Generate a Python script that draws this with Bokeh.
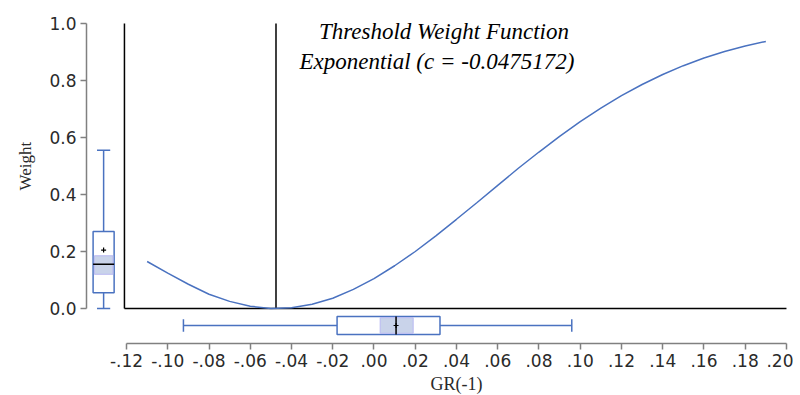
from bokeh.plotting import figure
from bokeh.models import Range1d, FixedTicker, Label, Title
from bokeh.embed import file_html
from bokeh.resources import INLINE

# ---- data ----
threshold_c = -0.0475172
gr_x = [-0.11, -0.10, -0.09, -0.08, -0.07, -0.06, -0.05, -0.04, -0.03, -0.02,
        -0.01, 0.00, 0.01, 0.02, 0.03, 0.04, 0.05, 0.06, 0.07, 0.08,
        0.09, 0.10, 0.11, 0.12, 0.13, 0.14, 0.15, 0.16, 0.17, 0.18, 0.19]
weight_y = [0.165, 0.124, 0.085, 0.050, 0.025, 0.008, 0.000, 0.003, 0.015, 0.036,
            0.067, 0.105, 0.150, 0.200, 0.255, 0.313, 0.372, 0.432, 0.492, 0.549,
            0.604, 0.656, 0.703, 0.747, 0.786, 0.821, 0.852, 0.879, 0.902, 0.921, 0.937]

# boxplot of weights (vertical)
w_min, w_q1, w_med, w_q3, w_max = 0.0, 0.055, 0.155, 0.27, 0.555
w_mean = 0.205
w_ci = (0.12, 0.185)

# boxplot of GR(-1) (horizontal)
g_min, g_q1, g_med, g_q3, g_max = -0.0924, -0.0179, 0.0107, 0.032, 0.0959
g_mean = 0.0107
g_ci = (0.003, 0.019)

x_ticks = [-0.12, -0.10, -0.08, -0.06, -0.04, -0.02, 0.00, 0.02, 0.04, 0.06,
           0.08, 0.10, 0.12, 0.14, 0.16, 0.18, 0.20]
x_tick_labels = ["-.12", "-.10", "-.08", "-.06", "-.04", "-.02", ".00", ".02", ".04", ".06",
                 ".08", ".10", ".12", ".14", ".16", ".18", ".20"]
y_ticks = [0.0, 0.2, 0.4, 0.6, 0.8, 1.0]
y_tick_labels = ["0.0", "0.2", "0.4", "0.6", "0.8", "1.0"]

title_lines = ["Threshold Weight Function", "Exponential (c = -0.0475172)"]
x_label = "GR(-1)"
y_label = "Weight"

# ---- style / layout ----
BLUE = "#4a72c0"
FILL = "#c9d3ea"
AXIS = "#808080"
TXT = "#2a2a2a"

p = figure(frame_width=701, frame_height=323, output_backend="svg", toolbar_location=None,
           x_range=Range1d(-0.1394, 0.2005), y_range=Range1d(-0.1228, 1.0105),
           min_border_left=86, min_border_top=20, min_border_right=6, min_border_bottom=46)
p.outline_line_color = None
p.xgrid.visible = False
p.ygrid.visible = False
p.background_fill_color = "white"

for ax, ticks, labels in ((p.xaxis[0], x_ticks, x_tick_labels), (p.yaxis[0], y_ticks, y_tick_labels)):
    ax.ticker = FixedTicker(ticks=ticks)
    ax.major_label_overrides = {t: l for t, l in zip(ticks, labels)}
    ax.axis_line_color = AXIS
    ax.axis_line_width = 1.5
    ax.major_tick_line_color = AXIS
    ax.major_tick_line_width = 1.5
    ax.major_tick_in = 0
    ax.major_tick_out = 6
    ax.minor_tick_line_color = None
    ax.major_label_text_font = "DejaVu Sans"
    ax.major_label_text_font_size = "17px"
    ax.major_label_text_color = TXT
p.xaxis.bounds = (x_ticks[0], x_ticks[-1])
p.yaxis.bounds = (y_ticks[0], y_ticks[-1])
p.yaxis.major_label_standoff = 4
p.xaxis.major_label_standoff = 4

# inner frame lines
x_frame = -0.121
p.segment(x0=[x_frame, x_frame], y0=[0, 0], x1=[x_frame, x_ticks[-1]], y1=[1.0, 0],
          line_color="black", line_width=1.5)
# threshold line
p.segment(x0=[threshold_c], y0=[0], x1=[threshold_c], y1=[1.0], line_color="black", line_width=1.5)

# curve
p.line(gr_x, weight_y, line_color=BLUE, line_width=1.5)

# vertical boxplot of weights
bx = -0.1311
bw = 0.0102
cap = 0.0032
p.segment(x0=[bx, bx], y0=[w_min, w_q3], x1=[bx, bx], y1=[w_q1, w_max], line_color=BLUE, line_width=1.5)
p.segment(x0=[bx - cap, bx - cap], y0=[w_min, w_max], x1=[bx + cap, bx + cap], y1=[w_min, w_max],
          line_color=BLUE, line_width=1.5)
p.quad(left=[bx - bw / 2], right=[bx + bw / 2], bottom=[w_q1], top=[w_q3],
       fill_color="white", line_color=BLUE, line_width=1.5)
p.quad(left=[bx - bw / 2 + 0.0006], right=[bx + bw / 2 - 0.0006], bottom=[w_ci[0]], top=[w_ci[1]],
       fill_color=FILL, line_color="#b9b9f2", line_width=1)
p.segment(x0=[bx - bw / 2], y0=[w_med], x1=[bx + bw / 2], y1=[w_med], line_color="black", line_width=1.5)
p.scatter([bx], [w_mean], marker="cross", size=5, line_color="black", line_width=1.2)

# horizontal boxplot of GR(-1)
by = -0.0596
bh = 0.063
vcap = 0.022
p.segment(x0=[g_min, g_q3], y0=[by, by], x1=[g_q1, g_max], y1=[by, by], line_color=BLUE, line_width=1.5)
p.segment(x0=[g_min, g_max], y0=[by - vcap, by - vcap], x1=[g_min, g_max], y1=[by + vcap, by + vcap],
          line_color=BLUE, line_width=1.5)
p.quad(left=[g_q1], right=[g_q3], bottom=[by - bh / 2], top=[by + bh / 2],
       fill_color="white", line_color=BLUE, line_width=1.5)
p.quad(left=[g_ci[0]], right=[g_ci[1]], bottom=[by - bh / 2 + 0.004], top=[by + bh / 2 - 0.004],
       fill_color=FILL, line_color="#b9b9f2", line_width=1)
p.segment(x0=[g_med], y0=[by - bh / 2], x1=[g_med], y1=[by + bh / 2], line_color="black", line_width=1.5)
p.scatter([g_mean], [by], marker="cross", size=5, line_color="black", line_width=1.2)

# titles
p.add_layout(Label(x=0.0339, y=0.972, text=title_lines[0], text_font="Liberation Serif",
                   text_font_style="italic", text_font_size="23px", text_align="center",
                   text_baseline="middle", text_color="black"))
p.add_layout(Label(x=0.0305, y=0.867, text=title_lines[1], text_font="Liberation Serif",
                   text_font_style="italic", text_font_size="23px", text_align="center",
                   text_baseline="middle", text_color="black"))

# axis labels
p.add_layout(Title(text=x_label, align="left", offset=344, standoff=4, text_font="Liberation Serif",
                   text_font_style="normal", text_font_size="18px", text_color=TXT), "below")
p.add_layout(Title(text=y_label, align="left", offset=153, standoff=19, vertical_align="top",
                   text_font="Liberation Serif",
                   text_font_style="normal", text_font_size="17px", text_color=TXT), "left")

open("out.html", "w").write(file_html(p, INLINE))
